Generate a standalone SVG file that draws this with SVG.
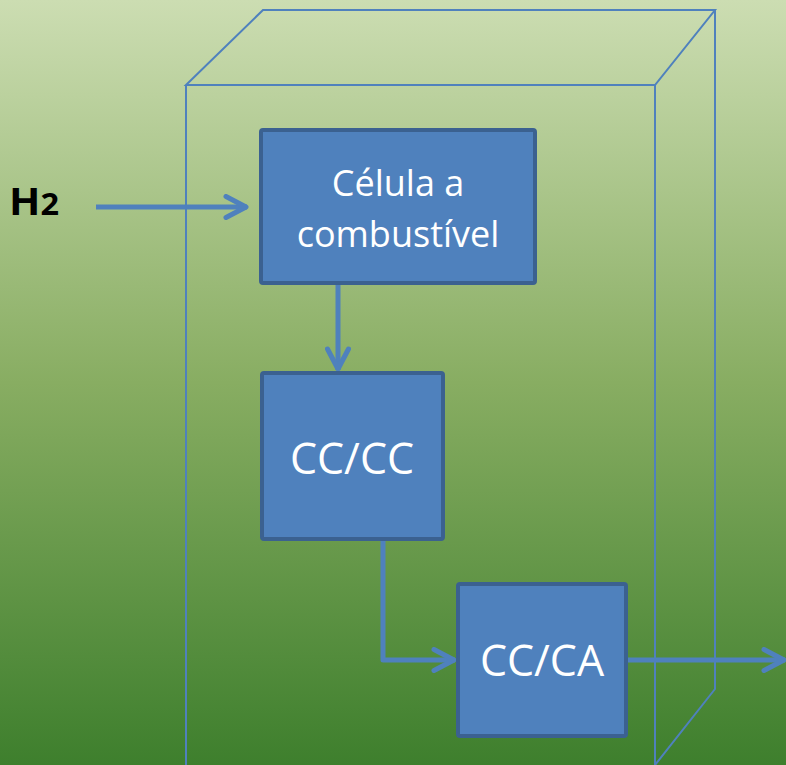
<svg xmlns="http://www.w3.org/2000/svg" width="786" height="765" viewBox="0 0 786 765">
  <defs>
    <linearGradient id="bg" x1="0" y1="0" x2="0" y2="1">
      <stop offset="0" stop-color="#CCDDB2"/>
      <stop offset="0.5" stop-color="#88AD62"/>
      <stop offset="1" stop-color="#3E7F2D"/>
    </linearGradient>
    <marker id="chev" viewBox="0 0 26 26" refX="24" refY="13" markerWidth="26" markerHeight="26" markerUnits="userSpaceOnUse" orient="auto">
      <path d="M3 2.5 L23 13 L3 23.5" fill="none" stroke="#4F81BD" stroke-width="5" stroke-linecap="round" stroke-linejoin="round"/>
    </marker>
    <style>
      .frame { fill: none; stroke: #4F81BD; stroke-width: 2; }
      .box { fill: #4F81BD; stroke: #3B6190; stroke-width: 4; }
      .lbl { fill: #FFFFFF; font-family: "Open Sans", "Liberation Sans", sans-serif; text-anchor: middle; }
      .flow { fill: none; stroke: #4F81BD; stroke-width: 5; stroke-linejoin: round; }
    </style>
  </defs>

  <rect width="786" height="765" fill="url(#bg)"/>

  <!-- enclosure drawn as a wireframe cabinet -->
  <g id="enclosure" class="frame">
    <path d="M186 85 L263 10 L715 10 L655 85 Z"/>
    <path d="M186 85 L186 765"/>
    <path d="M655 85 L655 765"/>
    <path d="M715 10 L715 689 L655 765"/>
  </g>

  <!-- flow connectors -->
  <g id="connectors" class="flow">
    <path d="M96 207 L247 207" marker-end="url(#chev)"/>
    <path d="M338 284 L338 370" marker-end="url(#chev)"/>
    <path d="M383 540 L383 660 L455 660" marker-end="url(#chev)"/>
    <path d="M627 660 L785 660" marker-end="url(#chev)"/>
  </g>

  <g id="h2-input">
    <text x="9" y="215" font-family="Open Sans, Liberation Sans, sans-serif" font-weight="bold" font-size="38" fill="#000000" textLength="50" lengthAdjust="spacingAndGlyphs">H<tspan font-size="30">2</tspan></text>
  </g>

  <g id="fuel-cell">
    <rect class="box" x="261" y="130" width="274" height="153" rx="2"/>
    <text class="lbl" x="398" y="196" font-size="36">Célula a</text>
    <text class="lbl" x="398" y="247" font-size="36">combustível</text>
  </g>

  <g id="dc-dc">
    <rect class="box" x="262" y="373" width="181" height="166" rx="2"/>
    <text class="lbl" x="352" y="474" font-size="43">CC/CC</text>
  </g>

  <g id="dc-ac">
    <rect class="box" x="458" y="584" width="168" height="152" rx="2"/>
    <text class="lbl" x="542" y="676" font-size="43">CC/CA</text>
  </g>
</svg>
